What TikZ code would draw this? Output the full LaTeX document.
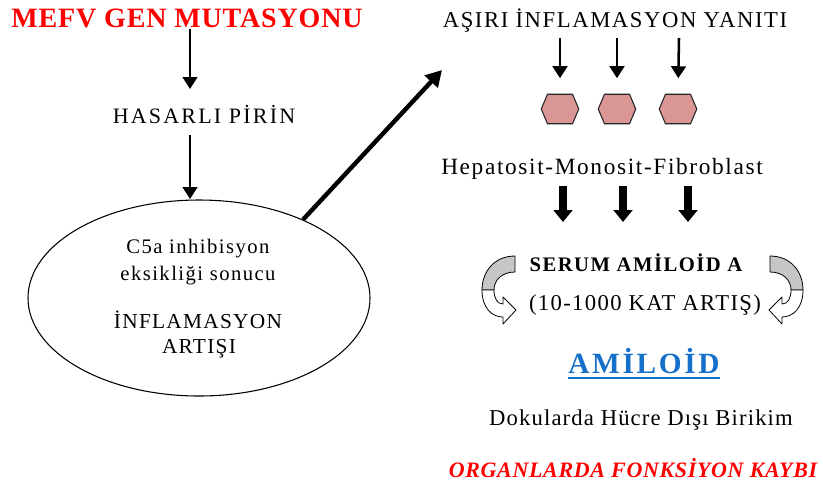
\documentclass[tikz,border=0pt]{standalone}
\usepackage{fontspec}
\setmainfont{Liberation Serif}
\usetikzlibrary{arrows.meta,shapes.geometric}
\definecolor{hexfill}{RGB}{217,150,148}
\definecolor{amblue}{RGB}{20,112,200}
\definecolor{curvgray}{RGB}{198,198,198}
\newcommand{\lsp}[1]{\addfontfeature{LetterSpace=#1}}
\begin{document}
\begin{tikzpicture}[x=0.75pt,y=-0.75pt,
  txt/.style={inner sep=0pt,anchor=base},
  thinarr/.style={line width=1.9pt,-{Triangle[width=11pt,length=9pt]}},
  diagarr/.style={line width=3.3pt,-{Triangle[width=13pt,length=12pt]}},
  blockarr/.style={line width=6.5pt,-{Triangle[width=14pt,length=9pt]}},
  hexst/.style={draw=black!85,line width=0.8pt,fill=hexfill},
  curvst/.style={draw=black,line width=0.6pt,line join=round}]
\useasboundingbox (0,0) rectangle (823,480);

% texts
\node[txt,text=red,font=\fontsize{21}{25}\selectfont\bfseries\lsp{3}] (mefv) at (187,27) {MEFV GEN MUTASYONU};
\node[txt,font=\fontsize{16.5}{19}\selectfont\lsp{10}] (hasarli) at (204,123) {HASARLI PİRİN};
\node[draw,ellipse,line width=0.8pt,inner sep=0pt,minimum width=256.5pt,minimum height=147pt] (ell) at (199,298) {};
\node[txt,font=\fontsize{15.5}{18}\selectfont\lsp{7}] (c5a) at (198,253) {C5a inhibisyon};
\node[txt,font=\fontsize{15.5}{18}\selectfont\lsp{7}] (eksik) at (198,280) {eksikliği sonucu};
\node[txt,font=\fontsize{16}{19}\selectfont\lsp{6}] (infl) at (198,328) {İNFLAMASYON};
\node[txt,font=\fontsize{16}{19}\selectfont\lsp{6}] (artisi) at (199,353) {ARTIŞI};
\node[txt,font=\fontsize{17}{20}\selectfont\lsp{7}] (asiri) at (615,27) {AŞIRI İNFLAMASYON YANITI};
\node[txt,font=\fontsize{17.5}{21}\selectfont\lsp{7}] (hepa) at (602,174) {Hepatosit-Monosit-Fibroblast};
\node[txt,font=\fontsize{15.5}{18}\selectfont\bfseries\lsp{7}] (serum) at (636,271) {SERUM AMİLOİD A};
\node[txt,font=\fontsize{17}{20}\selectfont\lsp{6}] (kat) at (645,310) {(10-1000 KAT ARTIŞ)};
\node[txt,text=amblue,font=\fontsize{22}{26}\selectfont\bfseries\lsp{9}] (amiloid) at (644,373) {AMİLOİD};
\draw[amblue,line width=1.3pt] ([yshift=-3.8pt]amiloid.base west) -- ([yshift=-3.8pt]amiloid.base east);
\node[txt,font=\fontsize{17}{20}\selectfont\lsp{5}] (doku) at (641,425) {Dokularda Hücre Dışı Birikim};
\node[txt,text=red,font=\fontsize{16.5}{20}\selectfont\bfseries\itshape\lsp{3}] (organ) at (633,477) {ORGANLARDA FONKSİYON KAYBI};

% hexagons
\foreach \n/\cx in {h1/560,h2/617,h3/678}{
  \node[inner sep=0pt,minimum width=27.75pt,minimum height=21.75pt] (\n) at (\cx,109) {};
  \draw[hexst] (\n.west) -- ([xshift=-9.4pt]\n.north) -- ([xshift=9.4pt]\n.north) -- (\n.east)
     -- ([xshift=9.4pt]\n.south) -- ([xshift=-9.4pt]\n.south) -- cycle;
}

% connectors
\coordinate (a1s) at (190,29);
\coordinate (a1e) at (190,89);
\draw[thinarr] (a1s) -- (a1e);
\coordinate (a2s) at (190,135);
\coordinate (a2e) at (190,199);
\draw[thinarr] (a2s) -- (a2e);
\coordinate (dgs) at (ell.37);
\coordinate (dge) at (442,70);
\draw[diagarr] (dgs) -- (dge);
\foreach \n/\cx in {h1/560,h2/617,h3/679}{
  \coordinate (s\n) at (\cx,38);
  \draw[thinarr,shorten >=12pt] (s\n) -- (\n.north);
}
\foreach \n/\cx in {b1/563,b2/623,b3/688}{
  \coordinate (\n s) at (\cx,186);
  \coordinate (\n e) at (\cx,222);
  \draw[blockarr] (\n s) -- (\n e);
}

% curved arrows
\draw[curvst,fill=curvgray] (515,256) .. controls (494,256) and (482,272) .. (482,290) -- (494,290)
  .. controls (494,280) and (502,272) .. (515,272) -- cycle;
\draw[curvst,fill=white] (482,290) .. controls (482,308) and (492,317) .. (503,317) -- (503,324) -- (516,310)
  -- (503,297) -- (503,304) .. controls (497,304) and (494,298) .. (494,290) -- cycle;
\draw[curvst,fill=curvgray] (770,256) .. controls (791,256) and (803,272) .. (803,290) -- (791,290)
  .. controls (791,280) and (783,272) .. (770,272) -- cycle;
\draw[curvst,fill=white] (803,290) .. controls (803,308) and (793,317) .. (782,317) -- (782,324) -- (769,310)
  -- (782,297) -- (782,304) .. controls (788,304) and (791,298) .. (791,290) -- cycle;
\end{tikzpicture}
\end{document}
